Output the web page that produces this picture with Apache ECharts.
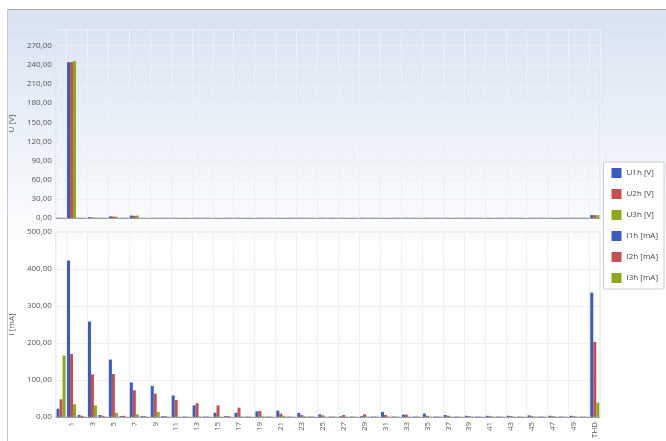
<!DOCTYPE html>
<html>
<head>
<meta charset="utf-8">
<script src="https://cdn.jsdelivr.net/npm/echarts@6/dist/echarts.min.js"></script>
<style>
  html, body { margin: 0; padding: 0; background: #fff; }
  #frame {
    position: absolute; left: 7px; top: 9px; width: 680px; height: 450px;
    border-top: 1px solid #a4a7ad; border-left: 1px solid #c4c8ce;
    background: linear-gradient(to bottom, #d8e2f1 0%, #eaf0f8 25%, #ffffff 55%, #ffffff 100%);
  }
  #chart { position: absolute; left: 0; top: 0; width: 666px; height: 441px; }
</style>
</head>
<body>
<div id="frame"></div>
<div id="chart"></div>
<script>
// harmonische (0 = DC), dann THD
var harmonics = ['0','1','2','3','4','5','6','7','8','9','10','11','12','13','14','15','16','17','18','19','20',
  '21','22','23','24','25','26','27','28','29','30','31','32','33','34','35','36','37','38','39','40',
  '41','42','43','44','45','46','47','48','49','50','THD']

// Spannungen [V]
var u1h = [0.3,244,0.3,1.2,0.3,2.5,0.3,3.8,0.3,0.3,0.3,0.3,0.3,0.3,0.3,0.3,0.3,0.3,0.3,0.3,0.3,
  0.3,0.3,0.3,0.3,0.3,0.3,0.3,0.3,0.3,0.3,0.3,0.3,0.3,0.3,0.3,0.3,0.3,0.3,0.3,0.3,
  0.3,0.3,0.3,0.3,0.3,0.3,0.3,0.3,0.3,0.3,4.5]
var u2h = [0.3,244,0.3,0.8,0.3,2.2,0.3,3.5,0.3,0.3,0.3,0.3,0.3,0.3,0.3,0.3,0.3,0.3,0.3,0.3,0.3,
  0.3,0.3,0.3,0.3,0.3,0.3,0.3,0.3,0.3,0.3,0.3,0.3,0.3,0.3,0.3,0.3,0.3,0.3,0.3,0.3,
  0.3,0.3,0.3,0.3,0.3,0.3,0.3,0.3,0.3,0.3,4.5]
var u3h = [0.3,246,0.3,0.5,0.3,2.0,0.3,3.8,0.3,0.3,0.3,0.3,0.3,0.3,0.3,0.3,0.3,0.3,0.3,0.3,0.3,
  0.3,0.3,0.3,0.3,0.3,0.3,0.3,0.3,0.3,0.3,0.3,0.3,0.3,0.3,0.3,0.3,0.3,0.3,0.3,0.3,
  0.3,0.3,0.3,0.3,0.3,0.3,0.3,0.3,0.3,0.3,4.5]

// Ströme [mA]
var i1h = [22,423,5,258,5,155,2,93,2,84,2,58,1,31,1,11,2,11,1,15,1,
  17,1,11,1,7,1,2,1,2,1,13,1,6,1,9,1,5,1,3,1,
  3,1,3,1,4,1,3,1,3,1,336]
var i2h = [47.5,170,3,115,3,116,3,72,2,63,2,46,1,37,1,31,2,25,1,16,1,
  9,1,5,1,4,1,5,1,7,1,5,1,6,1,3,1,3,1,2,1,
  2,1,2,1,2,1,2,1,2,1,203]
var i3h = [166,34,0.5,31,0.5,11,0.5,7,0.5,13,0.5,1,0.5,1,0.5,1,0.5,1,0.5,2,0.5,
  3,0.5,2,0.5,1,0.5,1,0.5,1,0.5,1,0.5,1,0.5,1,0.5,1,0.5,1,0.5,
  1,0.5,1,0.5,1,0.5,1,0.5,1,0.5,38.5]

var seriesNames = ['U1h [V]','U2h [V]','U3h [V]','I1h [mA]','I2h [mA]','I3h [mA]']
var colors = ['#3a5cbf','#c4504f','#8ca81c','#3a5cbf','#c4504f','#8ca81c']

var chart = echarts.init(document.getElementById('chart'))

var fmt = function (v) { return v.toFixed(2).replace('.', ',') }
var oddOrThd = function (idx, val) { return idx % 2 === 1 || val === 'THD' }

var yBase = {
  type: 'value',
  min: 0,
  nameLocation: 'middle',
  nameGap: 38,
  nameTextStyle: { fontSize: 8, color: '#555', fontFamily: 'Open Sans' },
  axisLine: { show: false },
  axisTick: { show: false },
  splitLine: { lineStyle: { color: '#eceff3' } }
}
var yLabel = { fontSize: 8, color: '#555', fontFamily: 'Open Sans', formatter: fmt, margin: 4 }

var xBase = {
  type: 'category',
  data: harmonics,
  axisLine: { lineStyle: { color: '#9aa0a8' } },
  axisTick: { show: false },
  splitLine: { show: true, interval: oddOrThd, lineStyle: { color: '#eef0f3' } }
}

var option = {
  animation: false,
  color: colors,
  legend: {
    orient: 'vertical',
    right: 2,
    top: 162,
    data: seriesNames,
    icon: 'rect',
    itemWidth: 10,
    itemHeight: 10,
    itemGap: 11,
    padding: [6, 6, 6, 8],
    borderColor: '#c8ccd2',
    borderWidth: 1,
    backgroundColor: '#fff',
    textStyle: { fontSize: 8, color: '#444', fontFamily: 'Open Sans' }
  },
  grid: [
    { left: 54, top: 29, width: 546, height: 189, show: true, borderColor: '#dfe3e9', backgroundColor: 'transparent' },
    { left: 54, top: 232, width: 546, height: 188, show: true, borderColor: '#dfe3e9', backgroundColor: 'transparent' }
  ],
  xAxis: [
    Object.assign({}, xBase, { gridIndex: 0, axisLabel: { show: false } }),
    Object.assign({}, xBase, {
      gridIndex: 1,
      axisLabel: { interval: oddOrThd, rotate: 90, fontSize: 8, color: '#555', fontFamily: 'Open Sans', margin: 5 }
    })
  ],
  yAxis: [
    Object.assign({}, yBase, { gridIndex: 0, name: 'U [V]', max: 296, interval: 30,
      axisLabel: Object.assign({}, yLabel, { showMaxLabel: false }) }),
    Object.assign({}, yBase, { gridIndex: 1, name: 'I [mA]', max: 500, interval: 100,
      axisLabel: Object.assign({}, yLabel, { showMaxLabel: true }) })
  ],
  series: [
    { name: seriesNames[0], type: 'bar', xAxisIndex: 0, yAxisIndex: 0, data: u1h, barGap: 0, barCategoryGap: '14%' },
    { name: seriesNames[1], type: 'bar', xAxisIndex: 0, yAxisIndex: 0, data: u2h, barGap: 0, barCategoryGap: '14%' },
    { name: seriesNames[2], type: 'bar', xAxisIndex: 0, yAxisIndex: 0, data: u3h, barGap: 0, barCategoryGap: '14%' },
    { name: seriesNames[3], type: 'bar', xAxisIndex: 1, yAxisIndex: 1, data: i1h, barGap: 0, barCategoryGap: '14%' },
    { name: seriesNames[4], type: 'bar', xAxisIndex: 1, yAxisIndex: 1, data: i2h, barGap: 0, barCategoryGap: '14%' },
    { name: seriesNames[5], type: 'bar', xAxisIndex: 1, yAxisIndex: 1, data: i3h, barGap: 0, barCategoryGap: '14%' }
  ]
}

chart.setOption(option)
</script>
</body>
</html>
